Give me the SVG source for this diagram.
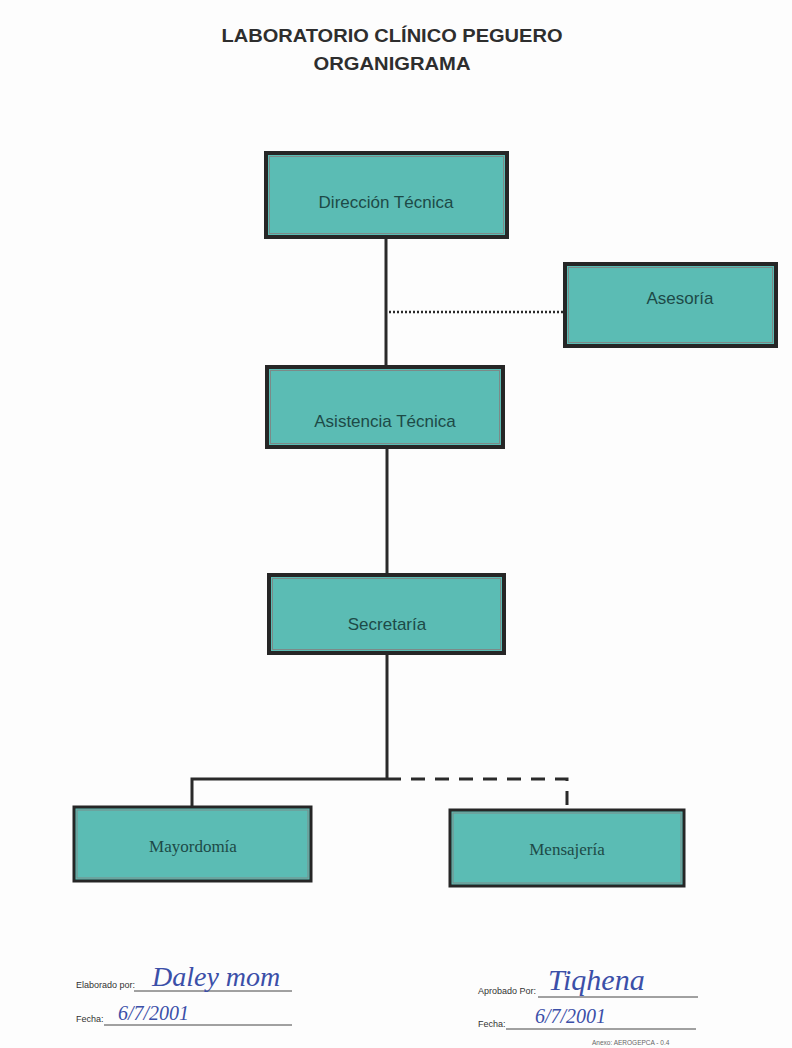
<svg xmlns="http://www.w3.org/2000/svg" width="792" height="1048" viewBox="0 0 792 1048">
<defs>
<style>
.box{fill:#5bbcb4;stroke:#262626;stroke-width:4}
.inner{fill:none;stroke:#7c8a88;stroke-width:1}
.lbl{font-family:"Liberation Sans",Arial,sans-serif;font-size:17px;fill:#1d4a47;text-anchor:middle}
.lbls{font-family:"Liberation Serif","Times New Roman",serif;font-size:17px;fill:#1d4a47;text-anchor:middle}
.title{font-family:"Liberation Sans",Arial,sans-serif;font-size:19px;font-weight:bold;fill:#2e2e2e;text-anchor:middle}
.ln{stroke:#2a2a2a;stroke-width:3;fill:none}
.foot{font-family:"Liberation Sans",Arial,sans-serif;font-size:9px;fill:#333}
.ul{stroke:#444;stroke-width:1}
.hand{font-family:"Liberation Serif",serif;font-style:italic;fill:#3b4fa8}
</style>
</defs>
<rect width="792" height="1048" fill="#fdfdfd"/>
<g id="title">
<text class="title" x="392" y="42" textLength="341" lengthAdjust="spacingAndGlyphs">LABORATORIO CLÍNICO PEGUERO</text>
<text class="title" x="392" y="70" textLength="157" lengthAdjust="spacingAndGlyphs">ORGANIGRAMA</text>
</g>
<g id="connectors">
<line class="ln" x1="386" y1="237" x2="386" y2="367"/>
<line x1="389" y1="312" x2="565" y2="312" stroke="#2a2a2a" stroke-width="2.5" stroke-dasharray="2 2"/>
<line class="ln" x1="387" y1="447" x2="387" y2="575"/>
<line class="ln" x1="387" y1="653" x2="387" y2="779"/>
<polyline class="ln" points="387,779 192,779 192,807"/>
<polyline class="ln" points="387,779 567,779 567,810" stroke-dasharray="14 10"/>
</g>
<g id="direccion">
<rect class="box" x="266" y="153" width="241" height="84"/>
<rect class="inner" x="269.5" y="156.5" width="234" height="77"/>
<text class="lbl" x="386" y="208">Dirección Técnica</text>
</g>
<g id="asesoria">
<rect class="box" x="565" y="264" width="211" height="82"/>
<rect class="inner" x="568.5" y="267.5" width="204" height="75"/>
<text class="lbl" x="680" y="304">Asesoría</text>
</g>
<g id="asistencia">
<rect class="box" x="267" y="367" width="236" height="80"/>
<rect class="inner" x="270.5" y="370.5" width="229" height="73"/>
<text class="lbl" x="385" y="427">Asistencia Técnica</text>
</g>
<g id="secretaria">
<rect class="box" x="269" y="575" width="235" height="78"/>
<rect class="inner" x="272.5" y="578.5" width="228" height="71"/>
<text class="lbl" x="387" y="630">Secretaría</text>
</g>
<g id="mayordomia">
<rect class="box" x="74" y="807" width="237" height="74" style="stroke-width:3"/>
<rect class="inner" x="77" y="810" width="231" height="68"/>
<text class="lbls" x="193" y="852">Mayordomía</text>
</g>
<g id="mensajeria">
<rect class="box" x="450" y="810" width="234" height="76" style="stroke-width:3"/>
<rect class="inner" x="453" y="813" width="228" height="70"/>
<text class="lbls" x="567" y="855">Mensajería</text>
</g>
<g id="footer">
<text class="foot" x="76" y="988">Elaborado por:</text>
<line class="ul" x1="134" y1="991" x2="292" y2="991"/>
<text class="hand" x="152" y="986" font-size="28">Daley mom</text>
<text class="foot" x="76" y="1022">Fecha:</text>
<line class="ul" x1="104" y1="1025" x2="292" y2="1025"/>
<text class="hand" x="118" y="1020" font-size="20">6/7/2001</text>
<text class="foot" x="478" y="994">Aprobado Por:</text>
<line class="ul" x1="538" y1="997" x2="698" y2="997"/>
<text class="hand" x="548" y="990" font-size="30">Tiqhena</text>
<text class="foot" x="478" y="1027">Fecha:</text>
<line class="ul" x1="506" y1="1029" x2="696" y2="1029"/>
<text class="hand" x="535" y="1023" font-size="20">6/7/2001</text>
<text x="592" y="1045" font-family="Liberation Sans, sans-serif" font-size="6.5" fill="#666">Anexo: AEROGEPCA - 0.4</text>
</g>
</svg>
